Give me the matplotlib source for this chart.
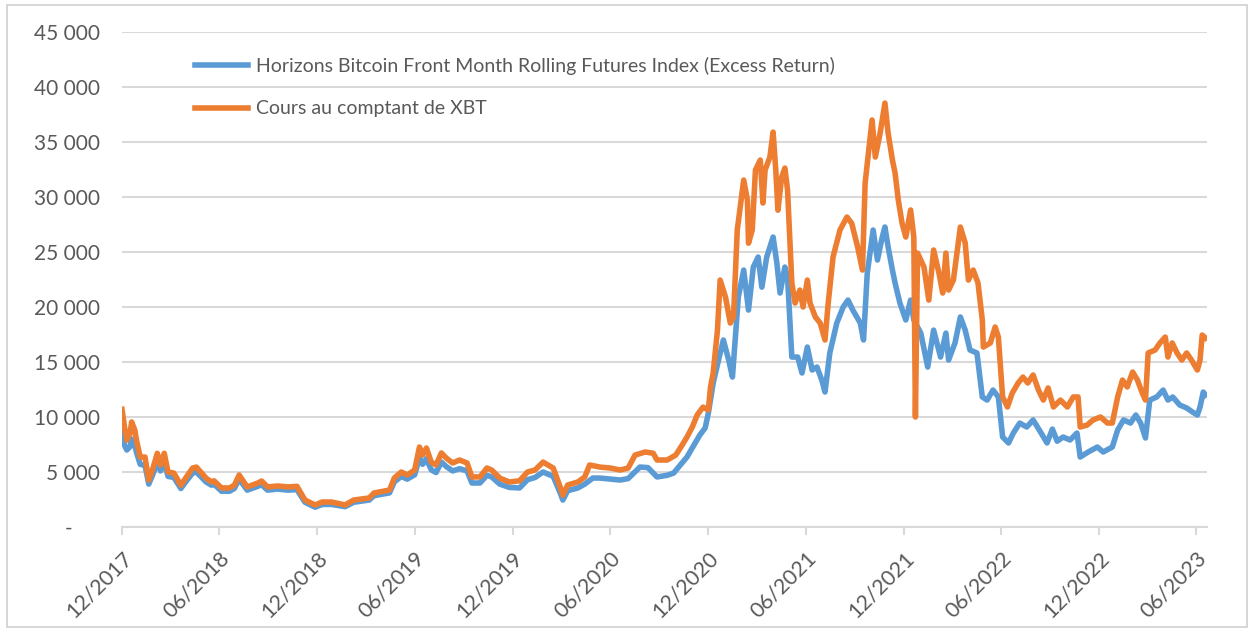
import matplotlib
matplotlib.use("Agg")
import matplotlib.pyplot as plt
import pandas as pd
from matplotlib.patches import Rectangle

# ---------------- data ----------------
series_names = [
    "Horizons Bitcoin Front Month Rolling Futures Index (Excess Return)",
    "Cours au comptant de XBT",
]

spot_dates = [
    "2017-12-01", "2017-12-06", "2017-12-10", "2017-12-16", "2017-12-19", "2017-12-25", "2017-12-28",
    "2018-01-04", "2018-01-13", "2018-01-20", "2018-01-27", "2018-02-05", "2018-02-11", "2018-02-18",
    "2018-02-25", "2018-03-08", "2018-03-21", "2018-03-30", "2018-04-12", "2018-04-19", "2018-05-07",
    "2018-05-17", "2018-05-22", "2018-06-05", "2018-06-20", "2018-06-29", "2018-07-08", "2018-07-23",
    "2018-08-12", "2018-08-19", "2018-08-30", "2018-09-18", "2018-10-07", "2018-10-24", "2018-11-08",
    "2018-11-27", "2018-12-10", "2018-12-28", "2019-01-22", "2019-02-07", "2019-03-08", "2019-03-17",
    "2019-04-15", "2019-04-24", "2019-05-07", "2019-05-18", "2019-06-01", "2019-06-10", "2019-06-16",
    "2019-06-23", "2019-07-02", "2019-07-11", "2019-07-21", "2019-07-30", "2019-08-11", "2019-08-24",
    "2019-09-07", "2019-09-16", "2019-10-01", "2019-10-14", "2019-10-23", "2019-11-07", "2019-11-25",
    "2019-12-14", "2019-12-29", "2020-01-12", "2020-01-27", "2020-02-15", "2020-02-28", "2020-03-04",
    "2020-03-13", "2020-04-01", "2020-04-14", "2020-04-23", "2020-05-12", "2020-06-01", "2020-06-19",
    "2020-07-04", "2020-07-17", "2020-08-05", "2020-08-20", "2020-08-27", "2020-09-15", "2020-10-01",
    "2020-10-13", "2020-10-22", "2020-11-01", "2020-11-10", "2020-11-21", "2020-12-01", "2020-12-05",
    "2020-12-10", "2020-12-18", "2020-12-23", "2021-01-02", "2021-01-11", "2021-01-17", "2021-01-24",
    "2021-02-05", "2021-02-12", "2021-02-14", "2021-02-21", "2021-02-27", "2021-03-08", "2021-03-13",
    "2021-03-17", "2021-03-26", "2021-04-01", "2021-04-06", "2021-04-10", "2021-04-17", "2021-04-23",
    "2021-04-28", "2021-05-06", "2021-05-12", "2021-05-21", "2021-05-27", "2021-06-04", "2021-06-09",
    "2021-06-19", "2021-06-28", "2021-07-07", "2021-07-13", "2021-07-22", "2021-08-04", "2021-08-17",
    "2021-08-26", "2021-09-06", "2021-09-15", "2021-09-20", "2021-10-03", "2021-10-09", "2021-10-18",
    "2021-10-27", "2021-11-02", "2021-11-10", "2021-11-15", "2021-11-21", "2021-11-28", "2021-12-05",
    "2021-12-14", "2021-12-20", "2021-12-23", "2021-12-27", "2022-01-08", "2022-01-17", "2022-01-26",
    "2022-02-05", "2022-02-12", "2022-02-18", "2022-02-23", "2022-03-04", "2022-03-17", "2022-03-26",
    "2022-04-01", "2022-04-10", "2022-04-19", "2022-04-27", "2022-04-29", "2022-05-12", "2022-05-21",
    "2022-05-27", "2022-06-04", "2022-06-13", "2022-06-22", "2022-07-03", "2022-07-12", "2022-07-21",
    "2022-07-31", "2022-08-10", "2022-08-19", "2022-08-28", "2022-09-07", "2022-09-20", "2022-10-03",
    "2022-10-14", "2022-10-23", "2022-10-27", "2022-11-09", "2022-11-20", "2022-12-04", "2022-12-17",
    "2022-12-26", "2023-01-05", "2023-01-14", "2023-01-23", "2023-02-02", "2023-02-11", "2023-02-20",
    "2023-02-26", "2023-03-03", "2023-03-16", "2023-03-25", "2023-04-04", "2023-04-09", "2023-04-17",
    "2023-04-26", "2023-05-05", "2023-05-14", "2023-05-23", "2023-06-03", "2023-06-08", "2023-06-12",
    "2023-06-18",
]
spot_values = [
    10700, 9000, 7900, 8500, 9550, 8800, 7900,
    6360, 6360, 4270, 5200, 6700, 5640, 6700,
    5000, 4900, 3800, 4450, 5360, 5450, 4450,
    4100, 4200, 3550, 3550, 3800, 4730, 3640,
    4000, 4180, 3640, 3730, 3640, 3700, 2450,
    2000, 2270, 2270, 2000, 2450, 2640, 3090,
    3360, 4450, 5000, 4730, 5180, 7270, 6540,
    7180, 5900, 5640, 6730, 6270, 5820, 6090,
    5820, 4550, 4550, 5360, 5180, 4450, 4090,
    4200, 5000, 5180, 5900, 5360, 3640, 2900,
    3820, 4090, 4550, 5640, 5450, 5360, 5180,
    5360, 6540, 6820, 6700, 6090, 6090, 6540,
    7450, 8180, 9090, 10180, 10900, 10640, 12730,
    14000, 17900, 22450, 20900, 18540, 19090, 27000,
    31540, 29720, 25800, 27000, 32450, 33360, 29450,
    32450, 33630, 35900, 32450, 28800, 31800, 32630,
    30630, 22180, 20360, 21540, 20000, 22450, 20360,
    19090, 18540, 17000, 20360, 24540, 27000, 28180,
    27600, 25450, 23360, 31270, 37000, 33630, 35800,
    38540, 35800, 33360, 32180, 29720, 27630, 26360,
    28820, 26360, 10000, 24900, 23630, 20630, 25180,
    23090, 21270, 24900, 21540, 22450, 27270, 25820,
    22450, 23360, 22180, 18820, 16360, 16730, 18180,
    17270, 11820, 10910, 12180, 13090, 13630, 13090,
    13820, 12450, 11540, 12640, 10910, 11540, 10910,
    11820, 11820, 9090, 9270, 9730, 10000, 9450,
    9450, 11820, 13360, 12730, 14090, 13360, 12180,
    11540, 15820, 16090, 16730, 17270, 15450, 16730,
    15820, 15180, 15820, 15180, 14270, 15180, 17450,
    17180,
]

index_dates = [
    "2017-12-01", "2017-12-06", "2017-12-10", "2017-12-16", "2017-12-19", "2017-12-25", "2017-12-28",
    "2018-01-04", "2018-01-13", "2018-01-20", "2018-01-27", "2018-02-05", "2018-02-11", "2018-02-18",
    "2018-02-25", "2018-03-08", "2018-03-21", "2018-03-30", "2018-04-12", "2018-04-19", "2018-05-07",
    "2018-05-17", "2018-05-22", "2018-06-05", "2018-06-20", "2018-06-29", "2018-07-08", "2018-07-23",
    "2018-08-12", "2018-08-19", "2018-08-30", "2018-09-18", "2018-10-07", "2018-10-24", "2018-11-08",
    "2018-11-27", "2018-12-10", "2018-12-28", "2019-01-22", "2019-02-07", "2019-03-08", "2019-03-17",
    "2019-04-15", "2019-04-24", "2019-05-07", "2019-05-18", "2019-06-01", "2019-06-10", "2019-06-16",
    "2019-06-23", "2019-07-02", "2019-07-11", "2019-07-21", "2019-07-30", "2019-08-11", "2019-08-24",
    "2019-09-07", "2019-09-16", "2019-10-01", "2019-10-14", "2019-10-23", "2019-11-07", "2019-11-25",
    "2019-12-14", "2019-12-29", "2020-01-12", "2020-01-27", "2020-02-15", "2020-02-28", "2020-03-04",
    "2020-03-13", "2020-04-01", "2020-04-14", "2020-04-29", "2020-05-12", "2020-06-01", "2020-06-19",
    "2020-07-04", "2020-07-26", "2020-08-10", "2020-08-27", "2020-09-15", "2020-09-27", "2020-10-09",
    "2020-10-22", "2020-11-01", "2020-11-15", "2020-11-25", "2020-12-01", "2020-12-10", "2020-12-20",
    "2020-12-29", "2021-01-08", "2021-01-15", "2021-01-26", "2021-02-05", "2021-02-14", "2021-02-23",
    "2021-03-04", "2021-03-11", "2021-03-20", "2021-04-01", "2021-04-08", "2021-04-14", "2021-04-23",
    "2021-04-28", "2021-05-06", "2021-05-17", "2021-05-25", "2021-06-04", "2021-06-13", "2021-06-22",
    "2021-07-01", "2021-07-07", "2021-07-16", "2021-07-29", "2021-08-10", "2021-08-19", "2021-08-28",
    "2021-09-11", "2021-09-17", "2021-09-24", "2021-10-05", "2021-10-13", "2021-10-22", "2021-10-27",
    "2021-11-02", "2021-11-10", "2021-11-15", "2021-11-24", "2021-12-05", "2021-12-14", "2021-12-20",
    "2022-01-02", "2022-01-15", "2022-01-26", "2022-02-08", "2022-02-18", "2022-02-23", "2022-03-07",
    "2022-03-17", "2022-03-26", "2022-04-04", "2022-04-17", "2022-04-27", "2022-05-06", "2022-05-17",
    "2022-05-27", "2022-06-04", "2022-06-15", "2022-06-24", "2022-07-06", "2022-07-19", "2022-07-31",
    "2022-08-13", "2022-08-26", "2022-09-05", "2022-09-14", "2022-09-25", "2022-10-08", "2022-10-21",
    "2022-10-27", "2022-11-11", "2022-11-28", "2022-12-09", "2022-12-26", "2023-01-05", "2023-01-16",
    "2023-01-29", "2023-02-08", "2023-02-17", "2023-02-26", "2023-03-06", "2023-03-19", "2023-03-31",
    "2023-04-09", "2023-04-18", "2023-05-01", "2023-05-14", "2023-05-25", "2023-06-03", "2023-06-08",
    "2023-06-14", "2023-06-18",
]
index_values = [
    8800, 7400, 7000, 7300, 8000, 7400, 6800,
    5700, 5600, 3900, 4700, 5900, 5100, 5900,
    4600, 4500, 3500, 4100, 4900, 5000, 4100,
    3800, 3900, 3250, 3250, 3500, 4350, 3350,
    3700, 3850, 3350, 3450, 3350, 3400, 2250,
    1800, 2050, 2050, 1850, 2250, 2450, 2850,
    3100, 4100, 4600, 4350, 4750, 6300, 5700,
    6200, 5200, 4950, 5900, 5500, 5100, 5300,
    5100, 4000, 4000, 4700, 4550, 3900, 3600,
    3550, 4300, 4500, 5000, 4600, 3100, 2450,
    3300, 3550, 3900, 4450, 4450, 4350, 4270,
    4400, 5450, 5400, 4550, 4700, 4900, 5600,
    6360, 7200, 8360, 9000, 10360, 13090, 15180,
    17000, 15180, 13630, 20900, 23360, 19720, 23630,
    24540, 21800, 24540, 26360, 24000, 21270, 23630,
    22730, 15450, 15450, 14000, 16360, 14270, 14540,
    13360, 12270, 15820, 18540, 20000, 20630, 19720,
    18540, 17000, 23090, 27000, 24270, 26360, 27270,
    25450, 23360, 22180, 20360, 18820, 20630, 18820,
    17630, 14540, 17900, 15450, 17630, 15180, 16730,
    19090, 17900, 16090, 15820, 11820, 11540, 12450,
    11820, 8180, 7640, 8540, 9450, 9090, 9730,
    8700, 7640, 8900, 7800, 8180, 7910, 8540,
    6360, 6820, 7270, 6820, 7270, 8820, 9730,
    9450, 10180, 9450, 8090, 11540, 11820, 12450,
    11540, 11820, 11090, 10820, 10450, 10180, 10910,
    12270, 12000,
]

tick_labels = ["12/2017", "06/2018", "12/2018", "06/2019", "12/2019", "06/2020",
               "12/2020", "06/2021", "12/2021", "06/2022", "12/2022", "06/2023"]
y_ticks = [0, 5000, 10000, 15000, 20000, 25000, 30000, 35000, 40000, 45000]

# ---------------- style ----------------
BLUE = "#5B9BD5"
ORANGE = "#ED7D31"
GRID = "#D9D9D9"
TEXT = "#595959"
plt.rcParams["font.family"] = ["Lato", "DejaVu Sans"]

W, H = 1253, 630
fig = plt.figure(figsize=(W / 100, H / 100), dpi=100)
fig.patch.set_facecolor("white")
fig.patches.append(Rectangle((7 / W, 3 / H), 1240 / W, 622 / H, transform=fig.transFigure,
                             fill=False, edgecolor="#D0D0D0", linewidth=1.2))

ax = fig.add_axes([122 / W, 1 - 527 / H, (1207 - 122) / W, (527 - 32) / H])

idx_d = pd.to_datetime(index_dates)
spot_d = pd.to_datetime(spot_dates)
ax.plot(idx_d, index_values, color=BLUE, lw=4, solid_joinstyle="round", label=series_names[0], zorder=3)
ax.plot(spot_d, spot_values, color=ORANGE, lw=4, solid_joinstyle="round", label=series_names[1], zorder=4)

ax.set_ylim(0, 45000)
ax.set_xlim(pd.Timestamp("2017-12-01"), pd.Timestamp("2023-06-21"))
ax.set_yticks(y_ticks)
ax.set_yticklabels(["-     " if v == 0 else f"{v:,}".replace(",", " ") for v in y_ticks])
tick_pos = pd.date_range("2017-12-01", periods=len(tick_labels), freq="6MS")
ax.set_xticks(tick_pos)
ax.set_xticklabels(tick_labels, rotation=45, ha="right", va="top", rotation_mode="anchor")

ax.grid(axis="y", color=GRID, lw=1.5)
ax.set_axisbelow(True)
for s in ["top", "right", "left"]:
    ax.spines[s].set_visible(False)
ax.spines["bottom"].set_color(GRID)
ax.spines["bottom"].set_linewidth(1.5)
ax.tick_params(axis="y", length=0, pad=16, labelsize=15, labelcolor=TEXT)
ax.tick_params(axis="x", length=6, width=1.5, color=GRID, pad=9, labelsize=15.5, labelcolor=TEXT)

leg = ax.legend(loc="upper left", bbox_to_anchor=(195 / W, 1 - 57 / H), bbox_transform=fig.transFigure,
                frameon=False, fontsize=14, handlelength=2.7, handletextpad=0.46, labelspacing=1.3,
                borderpad=0, borderaxespad=0)
for t in leg.get_texts():
    t.set_color(TEXT)
for l in leg.get_lines():
    l.set_linewidth(4)

fig.savefig("out.png", dpi=100)
